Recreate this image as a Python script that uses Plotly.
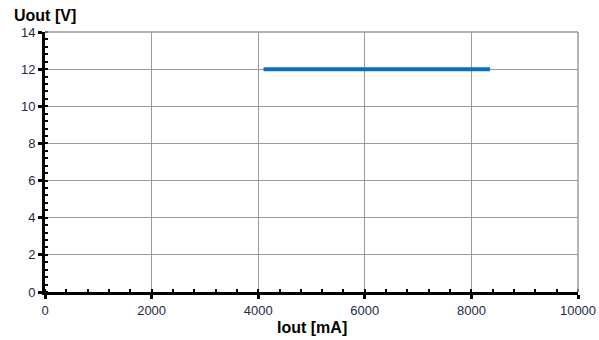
import plotly.graph_objects as go

iout = [4100, 8350]
uout = [12, 12]
x_ticks = [0, 2000, 4000, 6000, 8000, 10000]
x_labels = ["0", "2000", "4000", "6000", "8000", "10000"]
y_ticks = [0, 2, 4, 6, 8, 10, 12, 14]
y_labels = ["0", "2", "4", "6", "8", "10", "12", "14"]

fig = go.Figure()
fig.add_trace(go.Scatter(x=iout, y=uout, mode="lines",
                         line=dict(color="#0a6fc2", width=4), showlegend=False))

font = dict(family="Liberation Sans, Arial, sans-serif", size=13, color="#1c2a4a")
fig.update_layout(
    width=599, height=340,
    margin=dict(l=45, r=21, t=32, b=48),
    paper_bgcolor="white", plot_bgcolor="white",
    font=font,
    xaxis=dict(range=[0, 10000], tickvals=x_ticks, ticktext=x_labels, showgrid=True,
               gridcolor="#9a9a9a", gridwidth=1, zeroline=False, showline=True,
               linecolor="black", linewidth=3,
               ticks="outside", ticklen=4, tickwidth=3, tickcolor="black",
               minor=dict(dtick=400, ticks="inside", ticklen=3, tickwidth=2,
                          tickcolor="black", showgrid=False),
               tickfont=font, fixedrange=True, automargin=False),
    yaxis=dict(range=[0, 14], tickvals=y_ticks, ticktext=y_labels, showgrid=True,
               gridcolor="#9a9a9a", gridwidth=1, zeroline=False, showline=True,
               linecolor="black", linewidth=3,
               ticks="outside", ticklen=4, tickwidth=3, tickcolor="black",
               minor=dict(dtick=0.4, ticks="inside", ticklen=3, tickwidth=2,
                          tickcolor="black", showgrid=False),
               tickfont=font, fixedrange=True, automargin=False),
    shapes=[
        dict(type="line", xref="paper", yref="paper", x0=1, x1=1, y0=0, y1=1,
             line=dict(color="#9a9a9a", width=1.5)),
        dict(type="line", xref="paper", yref="paper", x0=0, x1=1, y0=1, y1=1,
             line=dict(color="#9a9a9a", width=1.5)),
    ],
    annotations=[
        dict(text="<b>Uout [V]</b>", xref="paper", yref="paper", x=-0.062, y=1.0,
             xanchor="left", yanchor="bottom", yshift=6, showarrow=False,
             font=dict(family="Liberation Sans, Arial, sans-serif", size=16, color="black")),
        dict(text="<b>Iout [mA]</b>", xref="paper", yref="paper", x=0.5, y=0,
             xanchor="center", yanchor="top", yshift=-25, showarrow=False,
             font=dict(family="Liberation Sans, Arial, sans-serif", size=16, color="black")),
    ],
)
fig.write_html("out.html", config={"displayModeBar": False},
               post_script="document.body.style.margin='0';")
